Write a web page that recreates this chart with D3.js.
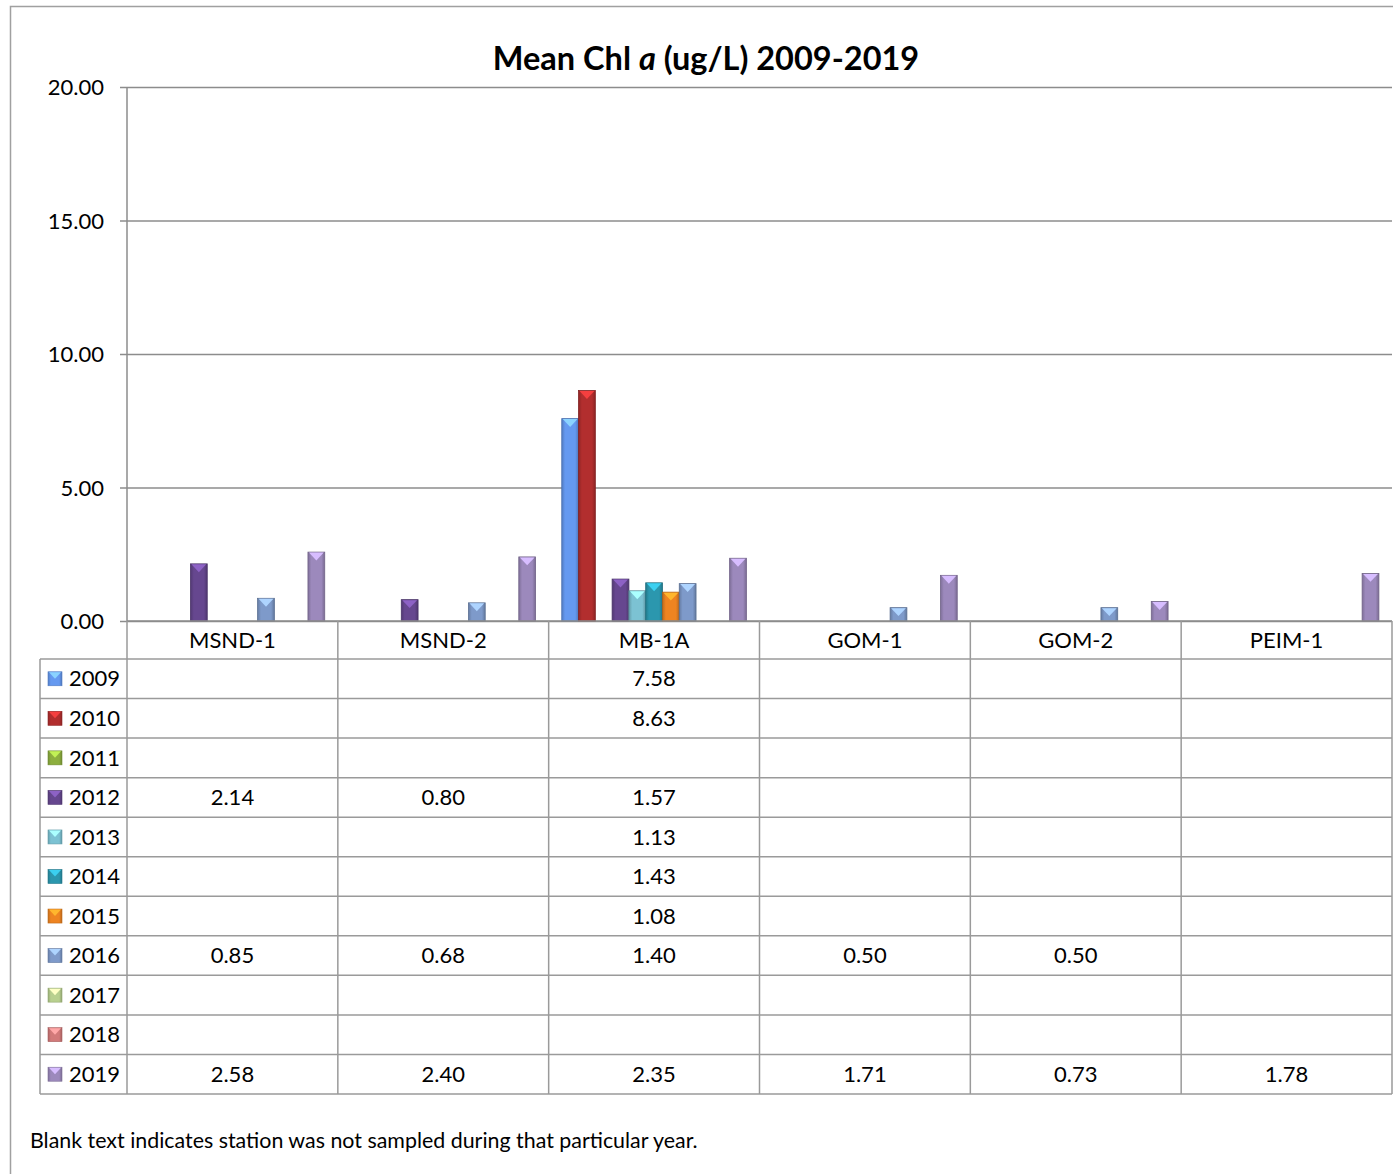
<!DOCTYPE html>
<html><head><meta charset="utf-8">
<script src="https://cdn.jsdelivr.net/npm/d3@7"></script>
<style>body{margin:0;background:#fff}svg{display:block}text{font-family:Lato,"Open Sans",sans-serif;fill:#000}</style>
</head><body><svg id="c" width="1393" height="1174"></svg>
<script>
const stations = ["MSND-1","MSND-2","MB-1A","GOM-1","GOM-2","PEIM-1"];
const years = ["2009","2010","2011","2012","2013","2014","2015","2016","2017","2018","2019"];
const colors = ["#6599F0","#B22E2E","#8DAF3E","#66478F","#7CC2D3","#2B97AE","#EE8421","#7E9ACA","#B8D08F","#D27A7A","#9C89BC"];
// values per year, per station (null = not sampled)
const v2009 = [null,null,7.58,null,null,null];
const v2010 = [null,null,8.63,null,null,null];
const v2011 = [null,null,null,null,null,null];
const v2012 = [2.14,0.80,1.57,null,null,null];
const v2013 = [null,null,1.13,null,null,null];
const v2014 = [null,null,1.43,null,null,null];
const v2015 = [null,null,1.08,null,null,null];
const v2016 = [0.85,0.68,1.40,0.50,0.50,null];
const v2017 = [null,null,null,null,null,null];
const v2018 = [null,null,null,null,null,null];
const v2019 = [2.58,2.40,2.35,1.71,0.73,1.78];
const yTicks = [0,5,10,15,20];
const series = [v2009,v2010,v2011,v2012,v2013,v2014,v2015,v2016,v2017,v2018,v2019];

const svg = d3.select("#c");
const L = 127, R = 1392, T = 87, B = 621;
const x = d3.scaleBand().domain(stations).range([L, R]);
const xi = d3.scaleBand().domain(years).range([0, x.bandwidth()]).paddingInner(0).paddingOuter(0.78);
const y = d3.scaleLinear().domain([0,20]).range([B, T]);
const rowH = (1094 - 659) / years.length;
const grid = "#8c8c8c";
const FS = 22;

// outer border
svg.append("rect").attr("x",10.5).attr("y",6.5).attr("width",1400).attr("height",1200)
  .attr("fill","none").attr("stroke","#a0a0a0").attr("stroke-width",1.5);

// title
const title = svg.append("text").attr("x",706).attr("y",70).attr("text-anchor","middle")
  .attr("font-size",32.5).attr("font-weight","bold");
title.append("tspan").text("Mean Chl ");
title.append("tspan").attr("font-style","italic").text("a");
title.append("tspan").text(" (ug/L) 2009-2019");

// gridlines + y axis
const yAxis = d3.axisLeft(y).tickValues(yTicks).tickFormat(d3.format(".2f")).tickSize(-(R - L)).tickPadding(23);
const ga = svg.append("g").attr("transform",`translate(${L},0)`).call(yAxis);
ga.select(".domain").remove();
ga.selectAll(".tick line").attr("x1",-7).attr("x2",R-L).attr("stroke",grid).attr("stroke-width",1.5);
ga.selectAll(".tick text").attr("font-size",FS).attr("font-family","Lato,'Open Sans',sans-serif").attr("dy","0.35em");
svg.append("line").attr("x1",L).attr("x2",L).attr("y1",T).attr("y2",B).attr("stroke",grid).attr("stroke-width",1.5);

// gradients
const defs = svg.append("defs");
colors.forEach((c,i)=>{
  const g = defs.append("linearGradient").attr("id","g"+i).attr("x1","0").attr("x2","1").attr("y1","0").attr("y2","0");
  const cc = d3.color(c);
  g.append("stop").attr("offset","0").attr("stop-color",cc.darker(0.6));
  g.append("stop").attr("offset","0.2").attr("stop-color",cc);
  g.append("stop").attr("offset","0.8").attr("stop-color",cc);
  g.append("stop").attr("offset","1").attr("stop-color",cc.darker(0.7));
});

// bars
function drawBar(gr, bx, by, bw, bh, i){
  const cc = d3.color(colors[i]);
  gr.append("rect").attr("x",bx).attr("y",by).attr("width",bw).attr("height",bh)
    .attr("fill",`url(#g${i})`).attr("stroke",cc.darker(0.9)).attr("stroke-width",0.8);
  const th = Math.min(bw*0.5, bh);
  gr.append("path").attr("d",`M${bx+1},${by+0.5}L${bx+bw-1},${by+0.5}L${bx+bw/2},${by+th}Z`)
    .attr("fill",cc.brighter(0.9));
}
const bars = svg.append("g");
series.forEach((s,i)=>{
  s.forEach((v,j)=>{
    if(v==null) return;
    const bx = x(stations[j]) + xi(years[i]);
    drawBar(bars, bx, y(v), xi.bandwidth(), y(0)-y(v), i);
  });
});

// table
const tb = svg.append("g");
const lineC = "#9a9a9a";
tb.append("line").attr("x1",L).attr("x2",R).attr("y1",B).attr("y2",B).attr("stroke",grid).attr("stroke-width",1.5);
for(let k=0;k<=years.length;k++){
  const yy = 659 + k*rowH;
  tb.append("line").attr("x1",40).attr("x2",R).attr("y1",yy).attr("y2",yy).attr("stroke",lineC).attr("stroke-width",1.5);
}
tb.append("line").attr("x1",40).attr("x2",40).attr("y1",659).attr("y2",1094).attr("stroke",lineC).attr("stroke-width",1.5);
stations.forEach(s=>{
  tb.append("line").attr("x1",x(s)).attr("x2",x(s)).attr("y1",B).attr("y2",1094).attr("stroke",lineC).attr("stroke-width",1.5);
});
tb.append("line").attr("x1",R).attr("x2",R).attr("y1",B).attr("y2",1094).attr("stroke",lineC).attr("stroke-width",1.5);
stations.forEach(s=>{
  tb.append("text").attr("x",x(s)+x.bandwidth()/2).attr("y",640).attr("dy","0.35em")
    .attr("text-anchor","middle").attr("font-size",FS).text(s);
});
years.forEach((yr,i)=>{
  const cy = 659 + i*rowH + rowH/2;
  const cc = d3.color(colors[i]);
  tb.append("rect").attr("x",48).attr("y",cy-7).attr("width",14).attr("height",14)
    .attr("fill",`url(#g${i})`).attr("stroke",cc.darker(0.6)).attr("stroke-width",0.6);
  tb.append("path").attr("d",`M49,${cy-6.5}L61,${cy-6.5}L55,${cy}Z`).attr("fill",cc.brighter(0.9));
  tb.append("text").attr("x",69).attr("y",cy).attr("dy","0.35em").attr("font-size",FS).text(yr);
  series[i].forEach((v,j)=>{
    if(v==null) return;
    tb.append("text").attr("x",x(stations[j])+x.bandwidth()/2).attr("y",cy).attr("dy","0.35em")
      .attr("text-anchor","middle").attr("font-size",FS).text(v.toFixed(2));
  });
});

// footnote
svg.append("text").attr("x",30).attr("y",1148).attr("font-size",21.4)
  .text("Blank text indicates station was not sampled during that particular year.");
</script></body></html>
